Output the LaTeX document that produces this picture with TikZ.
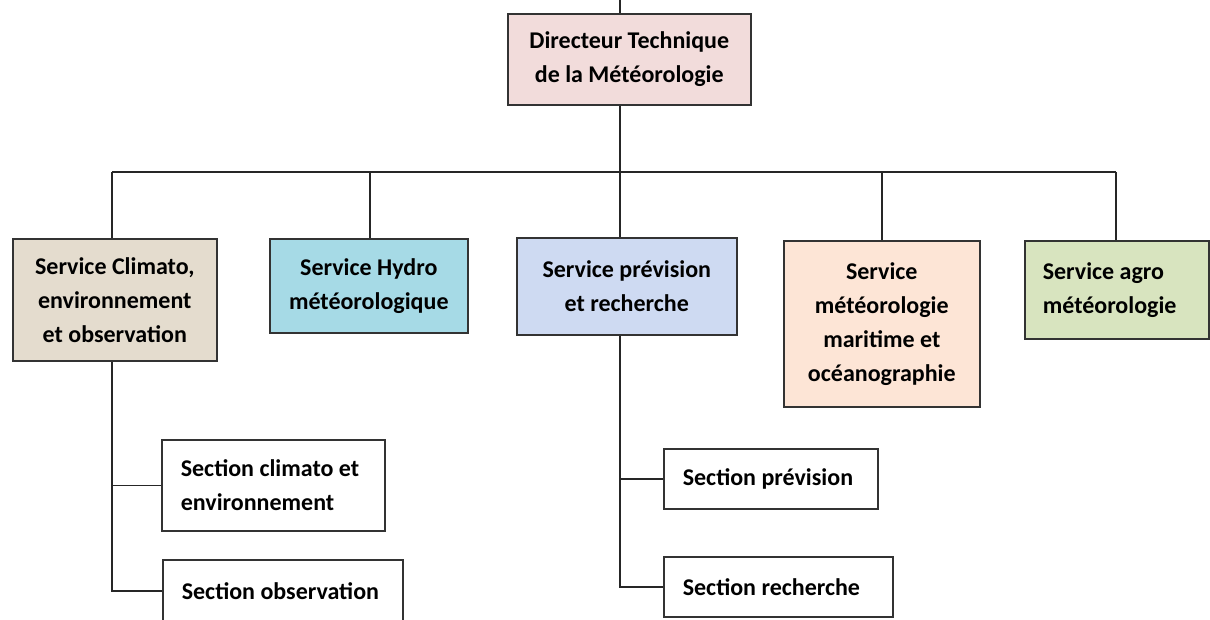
\documentclass[tikz,border=0pt]{standalone}
\usepackage{fontspec}
\setmainfont{Carlito}
\usepackage{tikz}
\usetikzlibrary{positioning,calc}

\definecolor{dirpink}{RGB}{242,220,219}
\definecolor{climbeige}{RGB}{228,220,206}
\definecolor{hydrocyan}{RGB}{166,218,230}
\definecolor{prevblue}{RGB}{206,218,242}
\definecolor{marpeach}{RGB}{253,229,214}
\definecolor{agrogreen}{RGB}{216,228,191}

\begin{document}
\begin{tikzpicture}[x=1pt, y=-1pt,
  every node/.style={font=\fontsize{24}{34}\selectfont\bfseries},
  box/.style={draw=black!80, line width=1.6pt, anchor=north west, inner sep=0pt, align=center},
  secbox/.style={box, align=flush left, inner xsep=19pt},
  link/.style={draw=black!85, line width=1.4pt}]
  \useasboundingbox (0,0) rectangle (1210,620);
  \clip (0,0) rectangle (1210,620);

  % direction
  \node[box,fill=dirpink,minimum width=243pt,minimum height=91pt] (dir) at (507,13)
    {Directeur Technique\\de la Météorologie};

  % services
  \node[box,fill=climbeige,minimum width=204pt,minimum height=122pt] (clim) at (12,238)
    {Service Climato,\\environnement\\et observation};
  \node[box,fill=hydrocyan,minimum width=198pt,minimum height=94pt] (hydro) at (269,238)
    {Service Hydro\\météorologique};
  \node[box,fill=prevblue,minimum width=220pt,minimum height=97pt] (prev) at (516,237)
    {Service prévision\\et recherche};
  \node[box,fill=marpeach,minimum width=196pt,minimum height=166pt] (mar) at (783,240)
    {Service\\météorologie\\maritime et\\océanographie};
  \node[box,fill=agrogreen,align=flush left,inner xsep=18pt,text width=148pt,
    minimum width=184pt,minimum height=98pt] (agro) at (1024,240)
    {Service agro\\météorologie};

  % sections
  \node[secbox,text width=185pt,minimum height=91pt] (secclim) at (161,439)
    {Section climato et\\environnement};
  \node[secbox,text width=202pt,minimum height=62pt] (secobs) at (162,559)
    {Section observation};
  \node[secbox,text width=176pt,minimum height=60pt] (secprev) at (663,448)
    {Section prévision};
  \node[secbox,text width=191pt,minimum height=60pt] (secrech) at (663,556)
    {Section recherche};

  % bus
  \coordinate (top) at (620,0);
  \coordinate (busl) at (112,172);
  \coordinate (busr) at (1116,172);
  \coordinate (bj) at (620,172);
  \coordinate (bh) at (370,172);
  \coordinate (bm) at (882,172);

  \draw[link] (top) -- (dir.north -| top);
  \draw[link] (dir.south -| top) -- (bj);
  \draw[link] (busl) -- (busr);
  \draw[link] (busl) -- (busl |- clim.north);
  \draw[link] (bh) -- (bh |- hydro.north);
  \draw[link] (bj) -- (bj |- prev.north);
  \draw[link] (bm) -- (bm |- mar.north);
  \draw[link] (busr) -- (busr |- agro.north);

  % branches
  \draw[link] (busl |- clim.south) -- (busl |- secobs.west) -- (secobs.west);
  \draw[link] (busl |- secclim.west) -- (secclim.west);
  \draw[link] (bj |- prev.south) -- (bj |- secrech.west) -- (secrech.west);
  \draw[link] (bj |- secprev.west) -- (secprev.west);
\end{tikzpicture}
\end{document}
